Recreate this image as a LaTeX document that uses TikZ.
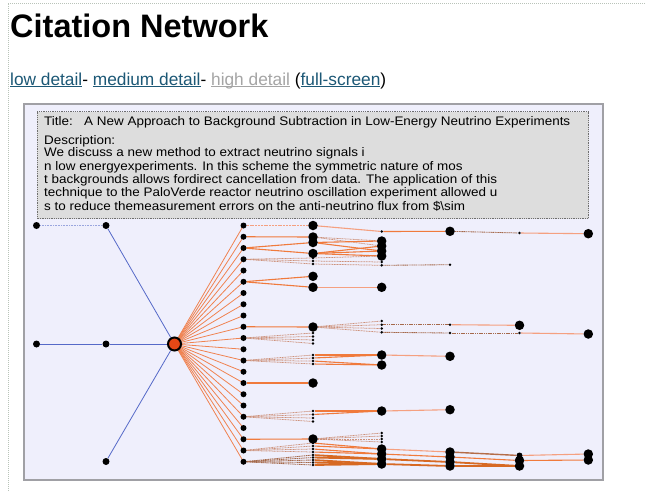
\documentclass[tikz,border=0pt]{standalone}
\usepackage{fontspec}
\setmainfont{Liberation Sans}
\newfontfamily\boxfont[FakeStretch=1.085]{Liberation Sans}
\pgfdeclarelayer{bg}
\pgfdeclarelayer{edges}
\pgfsetlayers{bg,edges,main}
\definecolor{panelfill}{RGB}{239,239,252}
\definecolor{boxfill}{RGB}{221,221,221}
\definecolor{boxline}{RGB}{110,110,110}
\definecolor{panelline}{RGB}{160,160,165}
\definecolor{pageline}{RGB}{185,195,185}
\definecolor{linkc}{RGB}{28,88,118}
\definecolor{visitc}{RGB}{165,165,165}
\definecolor{bluec}{RGB}{85,105,200}
\definecolor{fanc}{RGB}{240,130,80}
\definecolor{solidc}{RGB}{240,122,60}
\definecolor{lightc}{RGB}{245,160,128}
\definecolor{thickc}{RGB}{215,105,35}
\definecolor{faintc}{RGB}{205,145,122}
\definecolor{darkfaintc}{RGB}{165,105,75}
\definecolor{hubc}{RGB}{228,72,22}
\newcommand\mylink[2]{{\color{#1}\setbox0\hbox{#2}\rlap{\rule[-2pt]{\wd0}{0.9pt}}\box0}}
\begin{document}
\begin{tikzpicture}[x=1pt,y=-1pt,
  leaf/.style={circle,fill=black,inner sep=0pt,minimum size=7pt},
  dot/.style={circle,fill=black,inner sep=0pt,minimum size=6pt},
  bigdot/.style={circle,fill=black,inner sep=0pt,minimum size=9.5pt},
  tick/.style={circle,fill=black,inner sep=0pt,minimum size=2.8pt},
  hub/.style={circle,fill=hubc,draw=black,line width=2pt,minimum size=13pt,inner sep=0pt},
  blueedge/.style={draw=bluec,line width=0.8pt},
  bluefaint/.style={draw=bluec!60,line width=0.6pt,dash pattern=on 1pt off 0.6pt},
  fan/.style={draw=fanc,line width=0.8pt},
  solidedge/.style={draw=solidc,line width=1.1pt},
  lightedge/.style={draw=lightc,line width=1.1pt},
  thickedge/.style={draw=thickc,line width=1.8pt},
  faintedge/.style={draw=faintc,line width=0.75pt,dash pattern=on 1pt off 0.6pt},
  darkfaint/.style={draw=darkfaintc,line width=0.85pt,dash pattern=on 1.2pt off 0.6pt},
  txt/.style={anchor=base west,inner sep=0pt,font=\boxfont\fontsize{12.4}{14}\selectfont}
]
\useasboundingbox (0,0) rectangle (645,491);
\begin{pgfonlayer}{bg}
  \fill[white] (0,0) rectangle (645,491);
  \draw[pageline,line width=0.8pt,dash pattern=on 1pt off 1pt] (8,491) -- (8,3) -- (645,3);
  \draw[panelline,line width=1.5pt,fill=panelfill] (24,104) rectangle (603,480);
\end{pgfonlayer}

% headings
\node[anchor=base west,inner sep=0pt,font=\fontsize{32.5}{36}\selectfont\bfseries] (head) at (10,37) {Citation Network};
\node[anchor=base west,inner sep=0pt,font=\fontsize{17.3}{20}\selectfont] (links) at (10,85)
  {\mylink{linkc}{low detail}- \mylink{linkc}{medium detail}- \mylink{visitc}{high detail} (\mylink{linkc}{full-screen})};

% info box
\draw[boxline,line width=0.9pt,dash pattern=on 1pt off 0.8pt,fill=boxfill] (37,111.5) rectangle (588.5,218.5);
\node[txt] (tlab) at (44,125.5) {Title:};
\node[txt] (ttl) at (84,125.5) {A New Approach to Background Subtraction in Low-Energy Neutrino Experiments};
\node[txt] (dlab) at (44,144.3) {Description:};
\node[txt] (d1) at (44,156.6) {We discuss a new method to extract neutrino signals i};
\node[txt] (d2) at (44,170) {n low energyexperiments. In this scheme the symmetric nature of mos};
\node[txt] (d3) at (44,183.4) {t backgrounds allows fordirect cancellation from data. The application of this};
\node[txt] (d4) at (44,196.8) {technique to the PaloVerde reactor neutrino oscillation experiment allowed u};
\node[txt] (d5) at (44,210.2) {s to reduce themeasurement errors on the anti-neutrino flux from \$\textbackslash sim};

% left tree
\node[leaf] (L1) at (36.5,225.5) {};
\node[leaf] (L2) at (106,225.5) {};
\node[leaf] (L3) at (36.5,344) {};
\node[leaf] (L4) at (106,344) {};
\node[leaf] (L5) at (106,461.5) {};
\node[hub] (H) at (174.5,344) {};

% column 1
\foreach \k in {0,...,21} \node[dot] (a\k) at (243.5,{225.5+11.25*\k}) {};

% column 2
\foreach \n/\y in {225/225.5,237/237,242/242.5,253/253.5,276/276.3,287/287.3,327/327,383/383,439/439}
  \node[bigdot] (b\n) at (313,\y) {};
\foreach \n/\y in {258/258,261/261,264/264,333/333,336/336.5,340/340,343/343.5,355/355,358/358,361/361,364/364,
  411/411,414/414.5,418/418,421/421.5,443/443,446/446,449/449,452/452,455/455,457/457.5,460/460,462/462.5,465/465}
  \node[tick] (b\n) at (313,\y) {};

% column 3
\foreach \n/\y in {241/241,246/246,251/251,256/256,287/287.3,355/355,365/365,411/411,449/449,454/454,459/459,464/464}
  \node[bigdot] (c\n) at (381.7,\y) {};
\foreach \n/\y in {231/231.5,262/262,265/265.3,321/321,325/324.7,328/328.5,332/332.3,433/433,436/436,439/439,442/442}
  \node[tick] (c\n) at (381.7,\y) {};

% column 4
\foreach \n/\y in {231/231.3,356/356.3,410/409.7,452/452,457/457,462/462,466/466}
  \node[bigdot] (d\n) at (450,\y) {};
\foreach \n/\y in {265/264.7,325/324.7,333/333}
  \node[tick] (d\n) at (450,\y) {};

% column 5
\foreach \n/\y in {325/325.3,460/460.5,466/466}
  \node[bigdot] (e\n) at (519.5,\y) {};
\foreach \n/\y in {233/233,333/333}
  \node[tick] (e\n) at (519.5,\y) {};
\node[circle,fill=black,inner sep=0pt,minimum size=6pt] (e455) at (519.5,455.5) {};

% column 6
\foreach \n/\y in {234/233.7,334/334,454/454,460/460}
  \node[bigdot] (f\n) at (588.3,\y) {};

\begin{pgfonlayer}{edges}
  % blue
  \draw[bluefaint] (L1) -- (L2);
  \draw[blueedge] (L2) -- (H);
  \draw[blueedge] (L3) -- (L4);
  \draw[blueedge] (L4) -- (H);
  \draw[blueedge] (L5) -- (H);
  % hub fan
  \foreach \k in {0,...,21} \draw[fan] (H.center) -- (a\k.center);
  % column 1 -> 2
  \draw[lightedge,dash pattern=on 2pt off 0.8pt] (a0) -- (b225);
  \draw[solidedge] (a1) -- (b237);
  \draw[solidedge] (a2) -- (b242);
  \draw[solidedge] (a2) -- (b253);
  \foreach \t in {258,261,264} \draw[faintedge] (a3) -- (b\t);
  \draw[solidedge] (a5) -- (b276);
  \draw[solidedge] (a5) -- (b287);
  \draw[solidedge] (a9) -- (b327);
  \foreach \t in {333,336,340,343} \draw[faintedge] (a10) -- (b\t);
  \foreach \t in {355,358,361,364} \draw[faintedge] (a12) -- (b\t);
  \draw[solidedge] (a14) -- (b383);
  \foreach \t in {411,414,418,421} \draw[faintedge] (a17) -- (b\t);
  \draw[solidedge] (a19) -- (b439);
  \foreach \t in {443,446,449,452} \draw[faintedge] (a20) -- (b\t);
  \foreach \t in {455,457,460,462,465} \draw[darkfaint] (a21) -- (b\t);
  % column 2 -> 3
  \draw[lightedge] (b225) -- (c231);
  \draw[faintedge] (b237) -- (c241);
  \draw[faintedge] (b237) -- (c246);
  \draw[solidedge] (b242) -- (c241);
  \draw[solidedge] (b242) -- (c251);
  \draw[solidedge] (b253) -- (c246);
  \draw[solidedge] (b253) -- (c251);
  \draw[solidedge] (b253) -- (c256);
  \draw[faintedge] (b258) -- (c256);
  \draw[faintedge] (b261) -- (c262);
  \draw[faintedge] (b264) -- (c265);
  \draw[lightedge] (b287) -- (c287);
  \foreach \t in {321,325,328,332} \draw[faintedge] (b327) -- (c\t);
  \draw[solidedge] (b355) -- (c355);
  \draw[solidedge] (b358) -- (c355);
  \draw[solidedge] (b361) -- (c365);
  \draw[solidedge] (b364) -- (c365);
  \draw[solidedge] (b411) -- (c411);
  \draw[solidedge] (b414) -- (c411);
  \foreach \t in {433,436,439,442} \draw[faintedge] (b439) -- (c\t);
  \draw[solidedge] (b443) -- (c449);
  \draw[solidedge] (b446) -- (c449);
  \draw[solidedge] (b449) -- (c454);
  \draw[solidedge] (b452) -- (c454);
  \draw[thickedge] (b455) -- (c459);
  \draw[thickedge] (b457) -- (c459);
  \draw[thickedge] (b460) -- (c464);
  \draw[thickedge] (b462) -- (c464);
  \draw[thickedge] (b465) -- (c464);
  % column 3 -> 4
  \draw[solidedge] (c231) -- (d231);
  \draw[darkfaint] (c265) -- (d265);
  \draw[darkfaint] (c325) -- (d325);
  \draw[darkfaint] (c332) -- (d333);
  \draw[lightedge] (c355) -- (d356);
  \draw[lightedge] (c411) -- (d410);
  \draw[lightedge] (c449) -- (d452);
  \draw[solidedge] (c454) -- (d457);
  \draw[thickedge] (c459) -- (d462);
  \draw[thickedge] (c464) -- (d466);
  % column 4 -> 5
  \draw[darkfaint] (d231) -- (e233);
  \draw[lightedge] (d325) -- (e325);
  \draw[darkfaint] (d333) -- (e333);
  \draw[draw=darkfaintc!80!solidc,line width=1.4pt] (d452) -- (e455);
  \draw[solidedge] (d457) -- (e460);
  \draw[thickedge] (d462) -- (e466);
  \draw[thickedge] (d466) -- (e466);
  % column 5 -> 6
  \draw[lightedge] (e233) -- (f234);
  \draw[lightedge] (e333) -- (f334);
  \draw[lightedge] (e455) -- (f454);
  \draw[solidedge] (e460) -- (f460);
\end{pgfonlayer}
\end{tikzpicture}
\end{document}
